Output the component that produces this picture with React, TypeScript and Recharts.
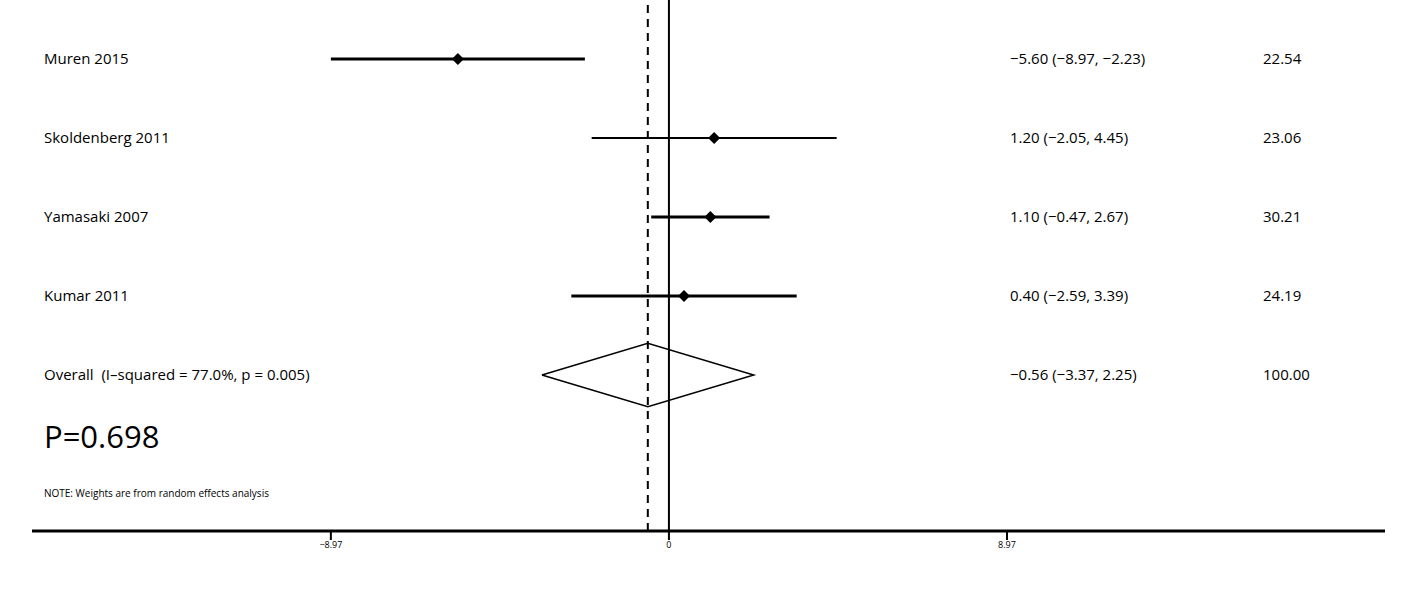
import React from "react";
import {
  ComposedChart,
  XAxis,
  YAxis,
  Scatter,
  Line,
  ReferenceLine,
} from "recharts";

const studies = ["Muren 2015", "Skoldenberg 2011", "Yamasaki 2007", "Kumar 2011"];
const estimates = [-5.6, 1.2, 1.1, 0.4];
const lower = [-8.97, -2.05, -0.47, -2.59];
const upper = [-2.23, 4.45, 2.67, 3.39];
const weights = ["22.54", "23.06", "30.21", "24.19"];
const overallLabel = "Overall  (I\u2013squared = 77.0%, p = 0.005)";
const overall = { est: -0.56, lo: -3.37, hi: 2.25, weight: "100.00" };
const xTicks = [-8.97, 0, 8.97];

const W = 1420;
const H = 589;
const ROW0 = 59;
const ROWGAP = 79;
const AXIS_Y = 531;

const fmt = (v: number) => (v < 0 ? "\u2212" + Math.abs(v).toFixed(2) : v.toFixed(2));
const ciText = (e: number, l: number, h: number) => `${fmt(e)} (${fmt(l)}, ${fmt(h)})`;

const points = estimates.map((e, i) => ({ x: e, y: i }));
const diamond = [
  { x: overall.lo, y: 4 },
  { x: overall.est, y: 3.6 },
  { x: overall.hi, y: 4 },
  { x: overall.est, y: 4.4 },
  { x: overall.lo, y: 4 },
];

const Diamond = (p: any) => (
  <polygon
    points={`${p.cx - 6},${p.cy} ${p.cx},${p.cy - 6} ${p.cx + 6},${p.cy} ${p.cx},${p.cy + 6}`}
    fill="#000"
  />
);

const font = "'Open Sans', 'Liberation Sans', sans-serif";

export default function App() {
  const rowY = (i: number) => ROW0 + ROWGAP * i;
  const labelRows = [...studies, overallLabel];
  const ciRows = [
    ...estimates.map((e, i) => ciText(e, lower[i], upper[i])),
    ciText(overall.est, overall.lo, overall.hi),
  ];
  const wRows = [...weights, overall.weight];
  return (
    <div style={{ position: "absolute", left: 0, top: 0, width: W, height: H, background: "#fff", fontFamily: font }}>
      <ComposedChart width={W} height={H} margin={{ top: 0, right: 35, bottom: H - AXIS_Y - 30, left: 32 }}>
        <XAxis
          type="number"
          dataKey="x"
          domain={[-16.9, 19.0]}
          ticks={xTicks}
          tickFormatter={(v: number) => (v === 0 ? "0" : v < 0 ? "\u2212" + Math.abs(v).toFixed(2) : v.toFixed(2))}
          axisLine={{ stroke: "#000", strokeWidth: 3 }}
          tickLine={{ stroke: "#000", strokeWidth: 2 }}
          tickSize={9}
          tick={{ fill: "#000", fontSize: 9, fontFamily: font }}
          allowDataOverflow
        />
        <YAxis type="number" dataKey="y" hide reversed domain={[-59 / 79, (AXIS_Y - 59) / 79]} allowDataOverflow />
        <ReferenceLine x={0} stroke="#000" strokeWidth={2} />
        <ReferenceLine x={overall.est} stroke="#000" strokeWidth={2} strokeDasharray="8 6" />
        {studies.map((s, i) => (
          <ReferenceLine
            key={s}
            segment={[{ x: lower[i], y: i }, { x: upper[i], y: i }]}
            stroke="#000"
            strokeWidth={i === 1 ? 2 : 3}
          />
        ))}
        <Scatter data={points} shape={Diamond} isAnimationActive={false} />
        <Line data={diamond} dataKey="y" stroke="#000" strokeWidth={1.5} dot={false} isAnimationActive={false} type="linear" />
      </ComposedChart>
      {labelRows.map((t, i) => (
        <div key={"l" + i} style={{ position: "absolute", left: 44, top: rowY(i) - 11, fontSize: 15, whiteSpace: "pre" }}>{t}</div>
      ))}
      {ciRows.map((t, i) => (
        <div key={"c" + i} style={{ position: "absolute", left: 1010, top: rowY(i) - 11, fontSize: 15, whiteSpace: "pre" }}>{t}</div>
      ))}
      {wRows.map((t, i) => (
        <div key={"w" + i} style={{ position: "absolute", left: 1263, top: rowY(i) - 11, fontSize: 15 }}>{t}</div>
      ))}
      <div style={{ position: "absolute", left: 44, top: 415, fontSize: 31 }}>P=0.698</div>
      <div style={{ position: "absolute", left: 44, top: 486, fontSize: 10 }}>NOTE: Weights are from random effects analysis</div>
    </div>
  );
}
